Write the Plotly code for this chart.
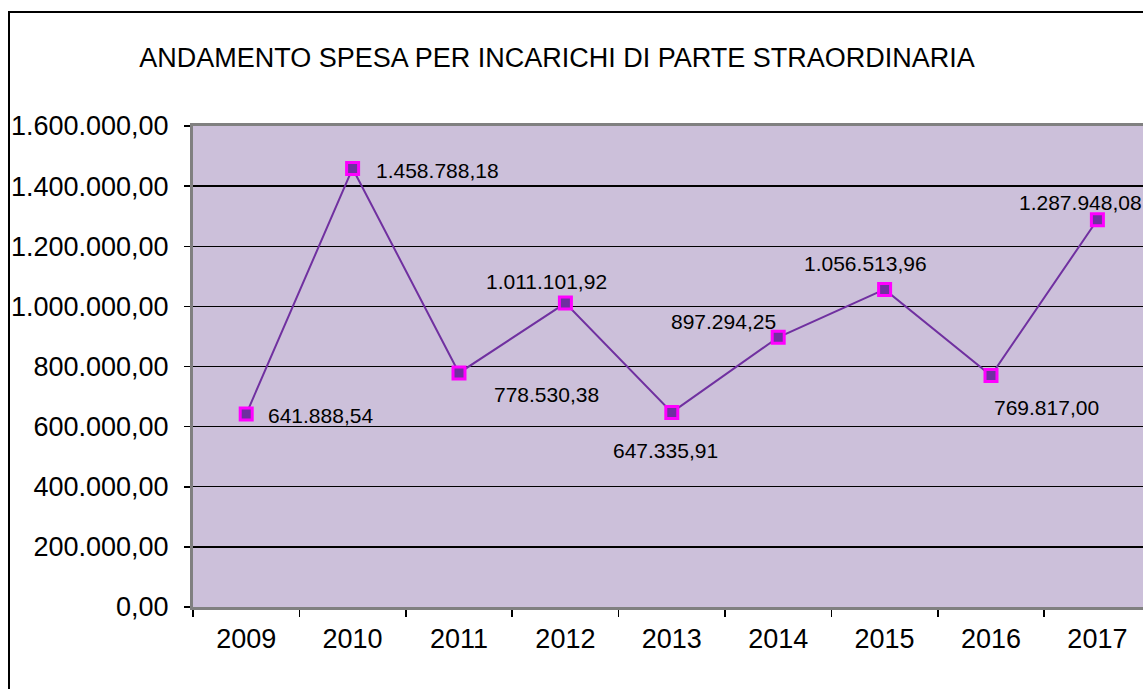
import plotly.graph_objects as go

years = ["2009", "2010", "2011", "2012", "2013", "2014", "2015", "2016", "2017"]
spesa = [641888.54, 1458788.18, 778530.38, 1011101.92, 647335.91,
         897294.25, 1056513.96, 769817.00, 1287948.08]
y_ticks = [0, 200000, 400000, 600000, 800000, 1000000, 1200000, 1400000, 1600000]
title_text = "ANDAMENTO SPESA PER INCARICHI DI PARTE STRAORDINARIA"

# label offsets (pixels) relative to each marker: style only
label_dx = [74, 85, 87, -19, -6, -55, -19, 55, -17]
label_dy = [-1, -2, -22, 22, -38, 16, 26, -32, 17]


def it_fmt(v):
    s = f"{v:,.2f}"
    return s.replace(",", "X").replace(".", ",").replace("X", ".")


FONT = "Liberation Sans, Arial, sans-serif"

fig = go.Figure()
fig.add_trace(go.Scatter(
    x=years, y=spesa, mode="lines+markers",
    line=dict(color="#7030A0", width=2),
    marker=dict(symbol="square", size=12, color="#7030A0",
                line=dict(color="#FF00FF", width=3)),
    cliponaxis=False, showlegend=False, hoverinfo="skip",
))

annotations = []
for i, v in enumerate(spesa):
    annotations.append(dict(
        x=i, y=v, xref="x", yref="y", text=it_fmt(v), showarrow=False,
        xanchor="center", yanchor="middle", xshift=label_dx[i], yshift=label_dy[i],
        font=dict(family=FONT, size=21, color="black"),
    ))

W, H = 1143, 689
L, R, T, B = 193, 0, 126, 689 - 607
pw, ph = W - L - R, H - T - B

shapes = [dict(
    type="rect", xref="paper", yref="paper",
    x0=(9 - L) / pw, x1=(W + 20 - L) / pw,
    y0=-(B + 20) / ph, y1=((H - B) - 12) / ph,
    line=dict(color="black", width=2), fillcolor="rgba(0,0,0,0)", layer="below",
)]

fig.update_layout(
    width=W, height=H,
    margin=dict(l=L, r=R, t=T, b=B, autoexpand=False),
    paper_bgcolor="white", plot_bgcolor="#CCC0DA",
    separators=",.",
    title=dict(text=title_text, x=557 / W, xanchor="center",
               y=1 - 58 / H, yanchor="middle", yref="container",
               font=dict(family=FONT, size=27, color="black")),
    xaxis=dict(type="category", range=[-0.5, -0.5 + pw / 106.4],
               tickson="boundaries", ticks="outside", ticklen=7, tickwidth=1.5,
               tickcolor="black", showgrid=False, showline=True,
               linecolor="#808080", linewidth=3, mirror=True,
               tickfont=dict(family=FONT, size=27, color="black"),
               ticklabelstandoff=6, zeroline=False),
    yaxis=dict(range=[0, 1600000], tickvals=y_ticks, tickformat=",.2f",
               ticks="outside", ticklen=6, tickwidth=1.5, tickcolor="black",
               showgrid=True, gridcolor="black", gridwidth=1.3,
               showline=True, linecolor="#808080", linewidth=3, mirror=True,
               tickfont=dict(family=FONT, size=27, color="black"),
               ticklabelstandoff=10, zeroline=False),
    annotations=annotations, shapes=shapes,
)

fig.write_html("out.html",
               config={"displayModeBar": False, "staticPlot": True},
               post_script="document.body.style.margin='0';document.body.style.overflow='hidden';")
